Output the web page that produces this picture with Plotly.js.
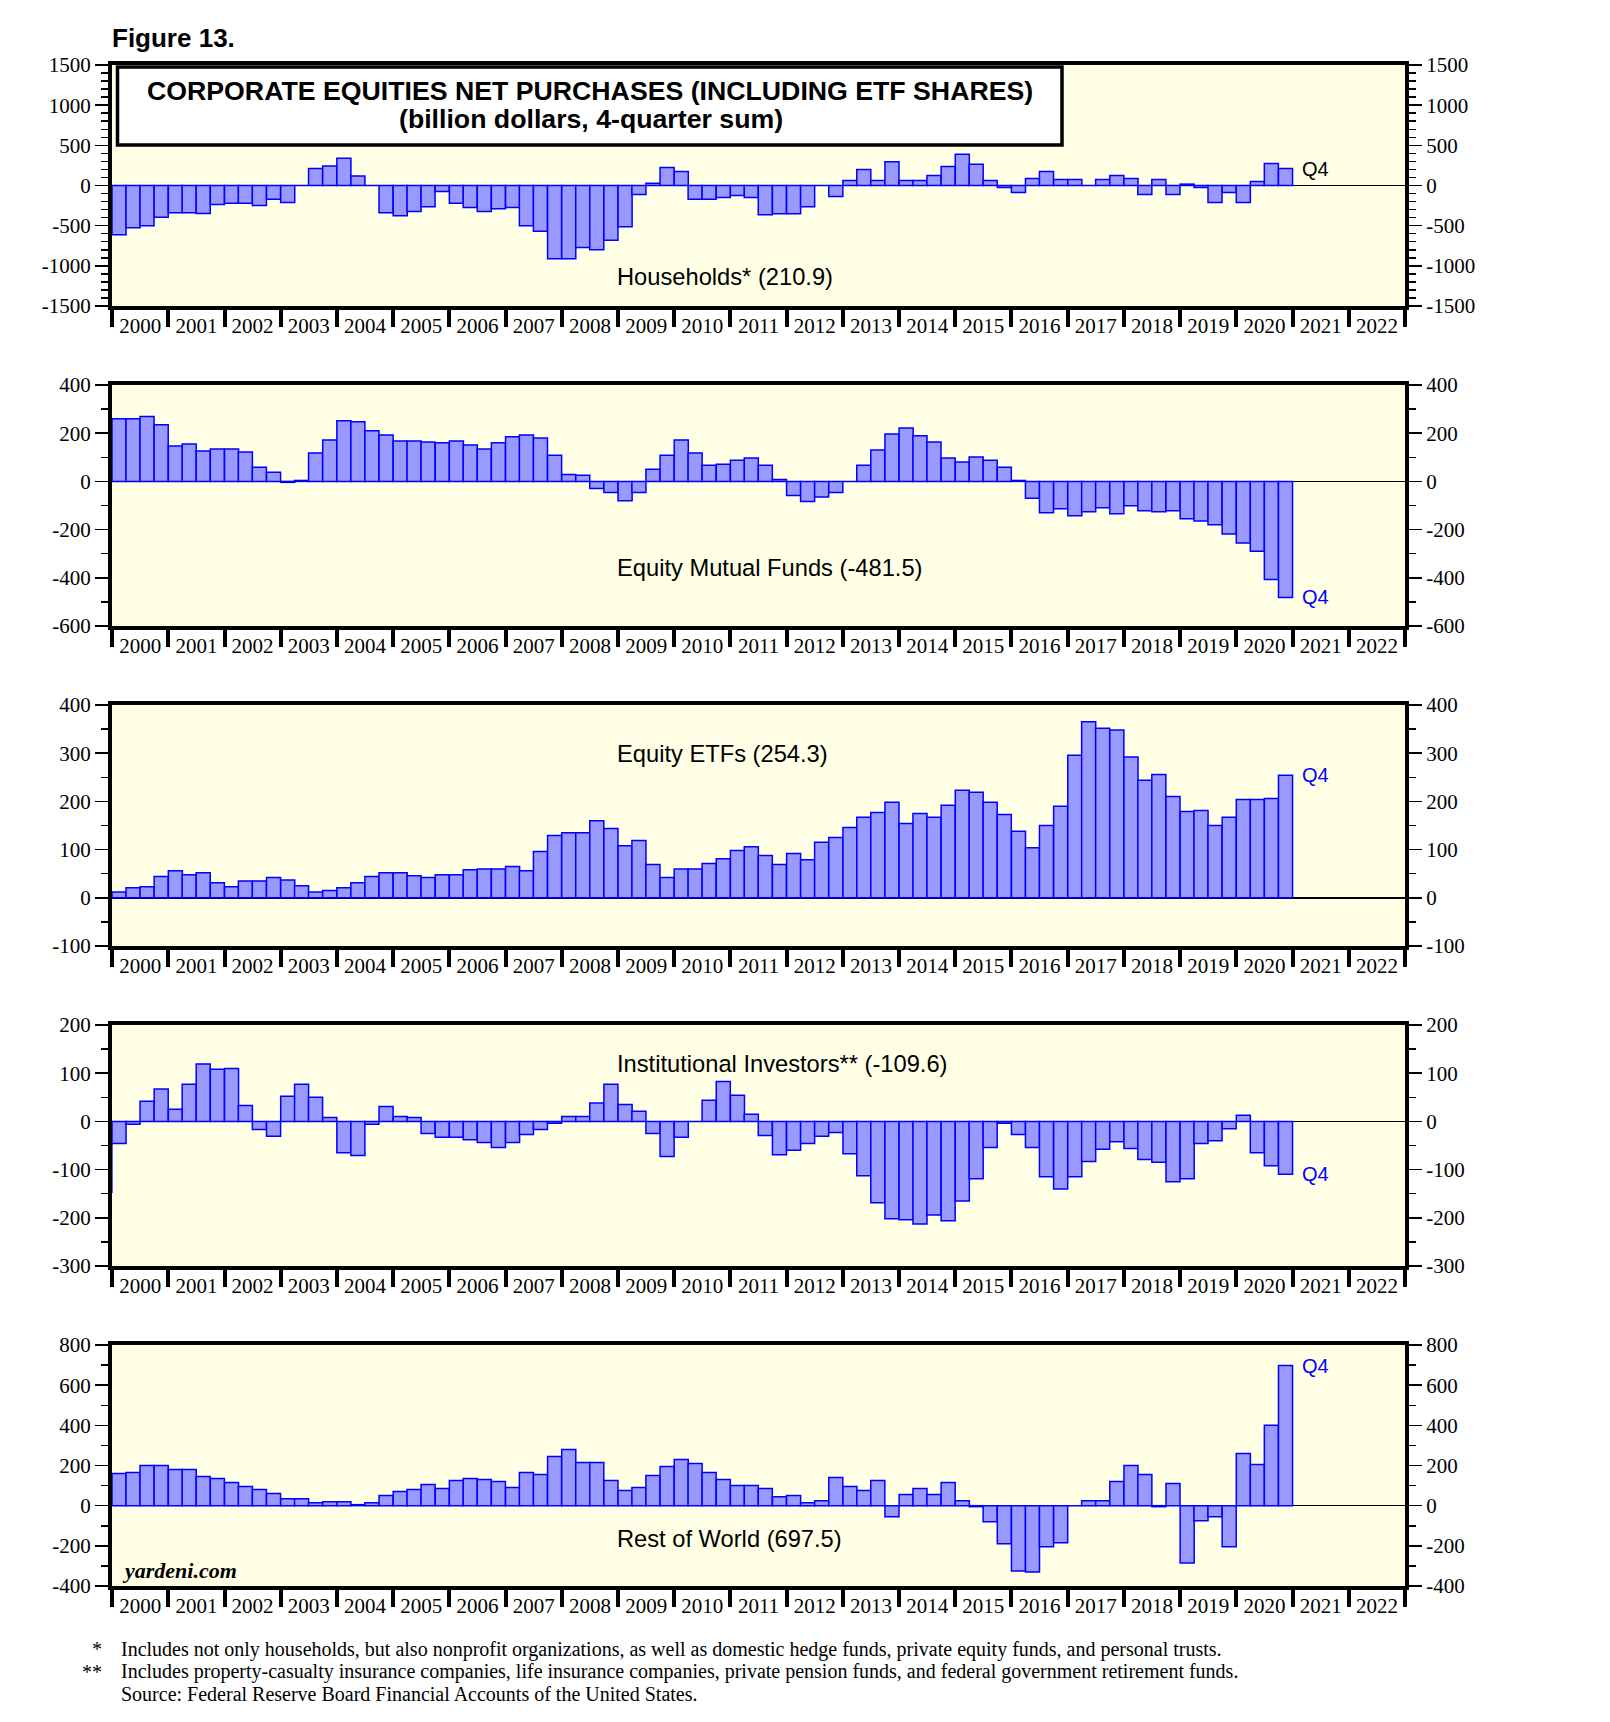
<!DOCTYPE html>
<html>
<head>
<meta charset="utf-8">
<script src="https://cdn.plot.ly/plotly-3.0.1.min.js"></script>
<style>
  html, body { margin: 0; padding: 0; background: #ffffff; }
  #chart { width: 1610px; height: 1722px; }
</style>
</head>
<body>
<div id="chart"></div>
<script>
// ---------------- DATA ----------------
const years = [2000, 2001, 2002, 2003, 2004, 2005, 2006, 2007, 2008, 2009, 2010,
               2011, 2012, 2013, 2014, 2015, 2016, 2017, 2018, 2019, 2020];
const quarterMonths = ['01', '04', '07', '10'];

// Households* (4-quarter sum, $bn), 2000Q1..2020Q4
const households = [
  -613, -525, -500, -396,
  -338, -338, -350, -238,
  -221, -221, -250, -171,
  -213, 0, 213, 242,
  338, 117, 0, -338,
  -375, -325, -263, -75,
  -221, -275, -325, -288,
  -275, -500, -571, -913,
  -913, -771, -800, -683,
  -513, -113, 29, 225,
  175, -171, -171, -150,
  -125, -150, -363, -352,
  -352, -263, 0, -138,
  63, 198, 63, 296,
  63, 63, 125, 238,
  388, 263, 63, -25,
  -88, 88, 175, 75,
  75, 0, 75, 125,
  88, -113, 75, -113,
  17, -25, -213, -88,
  -213, 50, 275, 210.9
];

// Equity Mutual Funds
const mutualFunds = [
  260, 260, 269, 235,
  147, 155, 126, 134,
  134, 122, 59, 38,
  -4, 4, 118, 172,
  252, 248, 210, 193,
  168, 168, 164, 160,
  168, 151, 134, 160,
  185, 193, 180, 109,
  29, 25, -29, -46,
  -80, -46, 50, 109,
  172, 118, 67, 71,
  88, 97, 67, 8,
  -58, -83, -65, -46,
  0, 67, 130, 197,
  222, 189, 164, 97,
  80, 101, 88, 59,
  4, -70, -130, -113,
  -143, -126, -109, -134,
  -101, -122, -126, -122,
  -155, -164, -180, -218,
  -256, -290, -407, -481.5
];

// Equity ETFs
const etfs = [
  12, 21, 23, 44,
  56, 48, 52, 31,
  23, 35, 35, 42,
  37, 25, 12, 15,
  21, 31, 44, 52,
  52, 46, 42, 48,
  48, 58, 60, 60,
  65, 56, 96, 129,
  135, 135, 160, 144,
  108, 119, 69, 42,
  60, 60, 71, 81,
  98, 106, 88, 69,
  92, 79, 115, 125,
  146, 167, 177, 198,
  154, 175, 167, 192,
  223, 219, 198, 173,
  138, 104, 150, 190,
  296, 365, 352, 348,
  292, 244, 256, 210,
  179, 181, 150, 167,
  204, 204, 206, 254.3
];

// Institutional Investors** (series starts one quarter earlier: 1999Q4)
const institutionalStart = '1999-10-01';
const institutional = [
  -147,
  -46, -6, 42, 67,
  25, 77, 119, 108,
  110, 33, -17, -31,
  52, 77, 50, 8,
  -65, -71, -6, 31,
  10, 8, -25, -33,
  -33, -38, -44, -54,
  -44, -27, -17, -4,
  10, 10, 38, 77,
  35, 21, -25, -73,
  -33, 0, 44, 83,
  54, 15, -29, -69,
  -60, -46, -31, -23,
  -67, -113, -169, -202,
  -204, -213, -194, -206,
  -165, -119, -54, -4,
  -27, -54, -115, -140,
  -115, -83, -58, -42,
  -56, -79, -85, -125,
  -119, -46, -40, -15,
  12.5, -65, -92, -109.6
];

// Rest of World
const restOfWorld = [
  160, 165, 200, 200,
  180, 180, 145, 135,
  115, 95, 80, 60,
  35, 35, 15, 20,
  20, 5, 15, 50,
  70, 80, 105, 85,
  125, 135, 130, 120,
  90, 165, 155, 245,
  280, 215, 215, 125,
  75, 90, 150, 195,
  230, 210, 165, 130,
  100, 100, 85, 45,
  50, 15, 25, 140,
  95, 75, 125, -55,
  55, 85, 55, 115,
  25, -5, -80, -190,
  -325, -330, -205, -185,
  0, 25, 25, 120,
  200, 155, -5, 110,
  -285, -75, -55, -205,
  260, 205, 400, 697.5
];

const seriesLabels = [
  'Households* (210.9)',
  'Equity Mutual Funds (-481.5)',
  'Equity ETFs (254.3)',
  'Institutional Investors** (-109.6)',
  'Rest of World (697.5)'
];
const lastPointLabel = 'Q4';
const titleLine1 = 'CORPORATE EQUITIES NET PURCHASES (INCLUDING ETF SHARES)';
const titleLine2 = '(billion dollars, 4-quarter sum)';
const figureLabel = 'Figure 13.';
const footnotes = [
  ['*', 'Includes not only households, but also nonprofit organizations, as well as domestic hedge funds, private equity funds, and personal trusts.'],
  ['**', 'Includes property-casualty insurance companies, life insurance companies, private pension funds, and federal government retirement funds.'],
  ['', 'Source: Federal Reserve Board Financial Accounts of the United States.']
];

// ---------------- BUILD ----------------
const quarterDates = [];
years.forEach(y => quarterMonths.forEach(m => quarterDates.push(y + '-' + m + '-01')));
const instDates = [institutionalStart].concat(quarterDates);

const W = 1610, H = 1722, L = 112, R = 205, T = 65, B = 136;
const plotW = W - L - R, plotH = H - T - B;
const px2x = p => (p - L) / plotW;
const py2y = p => 1 - (p - T) / plotH;

const SANS = 'Liberation Sans, Arial, sans-serif';
const SERIF = 'Liberation Serif, Times New Roman, serif';
const QUARTER_MS = 91.3 * 24 * 3600 * 1000;

const panels = [
  { x: quarterDates, y: households,    range: [-1500, 1500], major: 500, minor: 100, labelY: 277,  q4: '#000000' },
  { x: quarterDates, y: mutualFunds,   range: [-600, 400],   major: 200, minor: 100, labelY: 568,  q4: '#0000FF' },
  { x: quarterDates, y: etfs,          range: [-100, 400],   major: 100, minor: 50,  labelY: 754,  q4: '#0000FF' },
  { x: instDates,    y: institutional, range: [-300, 200],   major: 100, minor: 50,  labelY: 1064, q4: '#0000FF' },
  { x: quarterDates, y: restOfWorld,   range: [-400, 800],   major: 200, minor: 100, labelY: 1539, q4: '#0000FF' }
];

function steps(lo, hi, d) { const a = []; for (let v = lo; v <= hi + 1e-9; v += d) a.push(v); return a; }

const data = [];
const layout = {
  width: W, height: H,
  margin: { l: L, r: R, t: T, b: B, pad: 0 },
  paper_bgcolor: '#FFFFFF',
  plot_bgcolor: '#FFFFE6',
  showlegend: false,
  hovermode: false,
  annotations: [],
  shapes: []
};

panels.forEach((p, i) => {
  const n = i + 1;
  const sfx = n === 1 ? '' : String(n);
  const topPx = T + 320 * i, botPx = topPx + 241;
  const dom = [py2y(botPx), py2y(topPx)];
  const tv = steps(p.range[0], p.range[1], p.major);
  const tt = tv.map(v => String(v));
  const mv = steps(p.range[0], p.range[1], p.minor);

  data.push({
    type: 'bar', x: p.x, y: p.y,
    xaxis: 'x' + sfx, yaxis: 'y' + sfx,
    width: QUARTER_MS, offset: 0,
    marker: { color: '#9999FF', line: { color: '#0000FF', width: 1.5 } }
  });
  // empty trace so the right-hand mirror axis is registered and drawn
  data.push({
    type: 'scatter', mode: 'markers', x: [], y: [],
    xaxis: 'x' + sfx, yaxis: 'y' + (n + 5), showlegend: false
  });

  layout['xaxis' + sfx] = {
    type: 'date', domain: [0, 1], anchor: 'y' + sfx,
    range: ['2000-01-01', '2023-01-01'],
    tickmode: 'linear', tick0: '2000-01-01', dtick: 'M12',
    tickformat: '%Y', ticklabelmode: 'period',
    ticks: 'outside', ticklen: 17, tickwidth: 4, tickcolor: '#000',
    ticklabelstandoff: -19,
    showline: true, linewidth: 4, linecolor: '#000', mirror: true,
    showgrid: false, zeroline: false, fixedrange: true,
    tickfont: { family: SERIF, size: 21, color: '#000' }
  };
  const yCommon = {
    range: p.range, tickmode: 'array', tickvals: tv, ticktext: tt,
    ticks: 'outside', ticklen: 13, tickwidth: 1.5, tickcolor: '#000',
    minor: { ticks: 'outside', ticklen: 7, tickwidth: 1.5, tickcolor: '#000', tickmode: 'array', tickvals: mv },
    showline: true, linewidth: 4, linecolor: '#000', mirror: true,
    showgrid: false, fixedrange: true, autorange: false,
    tickfont: { family: SERIF, size: 21, color: '#000' }
  };
  layout['yaxis' + sfx] = Object.assign({}, yCommon, {
    domain: dom, anchor: 'x' + sfx, side: 'left',
    zeroline: true, zerolinecolor: '#000', zerolinewidth: 1.5
  });
  layout['yaxis' + (n + 5)] = Object.assign({}, yCommon, {
    overlaying: 'y' + sfx, anchor: 'x' + sfx, side: 'right', zeroline: false
  });

  // series label
  layout.annotations.push({
    xref: 'paper', yref: 'paper', x: px2x(615), y: py2y(p.labelY),
    xanchor: 'left', yanchor: 'middle', showarrow: false,
    text: seriesLabels[i], font: { family: SANS, size: 23.7, color: '#000' }
  });
  // last point label
  layout.annotations.push({
    xref: 'x' + sfx, yref: 'y' + sfx, x: '2021-01-01', y: p.y[p.y.length - 1],
    xanchor: 'left', yanchor: 'middle', xshift: 7, showarrow: false,
    text: lastPointLabel, font: { family: SANS, size: 20, color: p.q4 }
  });
});

// title box
layout.shapes.push({
  type: 'rect', xref: 'paper', yref: 'paper', layer: 'above',
  x0: px2x(117.5), x1: px2x(1062), y0: py2y(145), y1: py2y(67),
  fillcolor: '#FFFFFF', line: { color: '#000', width: 3.5 }
});
layout.annotations.push(
  { xref: 'paper', yref: 'paper', x: px2x(590), y: py2y(91), xanchor: 'center', yanchor: 'middle',
    showarrow: false, text: '<b>' + titleLine1 + '</b>', font: { family: SANS, size: 26.7, color: '#000' } },
  { xref: 'paper', yref: 'paper', x: px2x(591), y: py2y(119), xanchor: 'center', yanchor: 'middle',
    showarrow: false, text: '<b>' + titleLine2 + '</b>', font: { family: SANS, size: 26.7, color: '#000' } },
  { xref: 'paper', yref: 'paper', x: px2x(110), y: py2y(38), xanchor: 'left', yanchor: 'middle',
    showarrow: false, text: '<b>' + figureLabel + '</b>', font: { family: SANS, size: 26, color: '#000' } },
  { xref: 'paper', yref: 'paper', x: px2x(120), y: py2y(1570), xanchor: 'left', yanchor: 'middle',
    showarrow: false, text: '<b><i>yardeni.com</i></b>', font: { family: SERIF, size: 22, color: '#000' } }
);
const footY = [1649, 1671.5, 1694];
footnotes.forEach((f, k) => {
  if (f[0]) layout.annotations.push({
    xref: 'paper', yref: 'paper', x: px2x(104), y: py2y(footY[k]), xanchor: 'right', yanchor: 'middle',
    showarrow: false, text: f[0], font: { family: SERIF, size: 20, color: '#000' }
  });
  layout.annotations.push({
    xref: 'paper', yref: 'paper', x: px2x(119), y: py2y(footY[k]), xanchor: 'left', yanchor: 'middle',
    showarrow: false, text: f[1], font: { family: SERIF, size: 20, color: '#000' }
  });
});

Plotly.newPlot('chart', data, layout, { staticPlot: true, displayModeBar: false });
</script>
</body>
</html>
